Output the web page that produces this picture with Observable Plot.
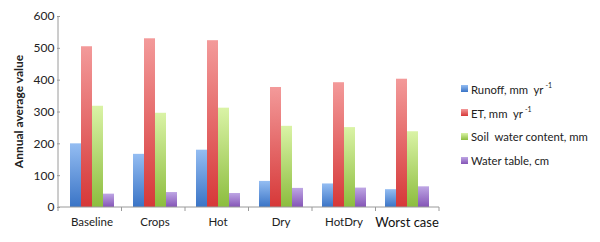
<!DOCTYPE html>
<html><head><meta charset="utf-8">
<script src="https://cdn.jsdelivr.net/npm/d3@7"></script>
<script src="https://cdn.jsdelivr.net/npm/@observablehq/plot@0.6"></script>
<style>
body{margin:0;background:#fff;font-family:Lato,"Open Sans",sans-serif;}
#wrap{position:relative;width:600px;height:242px;}
#legend{position:absolute;left:461px;top:76px;font-size:11.3px;color:#222;}
#legend .row{height:24px;display:flex;align-items:center;white-space:nowrap;}
#legend .sw{width:7px;height:7px;margin-right:3px;}
#legend sup{font-size:7px;vertical-align:6px;margin-left:2px;}
</style></head>
<body><div id="wrap"><div id="chart"></div><div id="legend"></div></div>
<script>
const categories = ["Baseline","Crops","Hot","Dry","HotDry","Worst case"];
const series = ["Runoff","ET","Soil water content","Water table"];
const runoff = [200,167,180,82,74,56];
const et = [505,530,524,377,392,403];
const soil = [318,296,312,255,251,238];
const waterTable = [42,47,44,60,61,65];
const yTicks = [0,100,200,300,400,500,600];
const yLabel = "Annual average value";
const legendLabels = ['Runoff, mm&nbsp; yr<sup>-1</sup>','ET, mm&nbsp; yr<sup>-1</sup>','Soil&nbsp; water content, mm','Water table, cm'];
const gradTop = ["#94bdf2","#f39a9a","#daf3a6","#bea6e4"];
const gradBot = ["#3a74c6","#d63838","#8cbd3e","#8454b6"];

const valuesBySeries = [runoff, et, soil, waterTable];
const data = [];
categories.forEach((c,i)=>series.forEach((s,j)=>data.push({cat:c, series:s, value:valuesBySeries[j][i]})));

const gradIds = series.map((s,j)=>"url(#grad"+j+")");

const svg = Plot.plot({
  width: 450, height: 242,
  marginLeft: 58, marginRight: 11, marginTop: 16, marginBottom: 35,
  style: {fontFamily: "Lato, 'Open Sans', sans-serif", fontSize: "11.5px", color: "#222"},
  fx: {domain: categories, padding: 0, axis: "bottom", tickSize: 0, tickPadding: 10, label: null},
  x: {domain: series, paddingInner: 0, paddingOuter: 0.76, axis: null},
  y: {domain: [0,600], ticks: yTicks, tickSize: 3, label: null, tickPadding: 3},
  color: {domain: series, range: gradIds},
  marks: [
    Plot.barY(data, {fx: "cat", x: "series", y: "value", fill: "series"})
  ]
});

const root = d3.select(svg);
const defs = root.insert("defs", ":first-child");
series.forEach((s,j)=>{
  const lg = defs.append("linearGradient").attr("id","grad"+j).attr("x1",0).attr("y1",0).attr("x2",0).attr("y2",1);
  lg.append("stop").attr("offset","0%").attr("stop-color",gradTop[j]);
  lg.append("stop").attr("offset","100%").attr("stop-color",gradBot[j]);
});
root.selectAll("[aria-label='y-axis tick'] path, [aria-label='y-axis tick'] line").attr("stroke","#9a9a9a");
root.selectAll("[aria-label='y-axis tick label'] text").attr("font-size", 12);
root.selectAll("[aria-label='fx-axis tick label'] text").each(function(){
  const t = d3.select(this);
  if (t.text() === "Worst case") t.attr("font-size", 13).attr("fill","#111");
});

// axis lines and category boundary ticks from Plot's scales
const fxs = svg.scale("fx"), ys = svg.scale("y");
const fxScale = d3.scaleBand(fxs.domain, fxs.range).paddingInner(fxs.paddingInner ?? 0).paddingOuter(fxs.paddingOuter ?? 0).align(fxs.align ?? 0.5);
const yScale = d3.scaleLinear(ys.domain, ys.range);
const bw = fxScale.bandwidth();
const x0 = fxScale(categories[0]), x1 = fxScale(categories[categories.length-1]) + bw;
const stroke = "#9a9a9a";
const g = root.append("g");
g.append("line").attr("x1", x0).attr("x2", x0).attr("y1", yScale(0)).attr("y2", yScale(600)).attr("stroke", stroke);
g.append("line").attr("x1", x0).attr("x2", x1).attr("y1", yScale(0)).attr("y2", yScale(0)).attr("stroke", stroke);
categories.map(c=>fxScale(c)).concat([x1]).forEach(e=>
  g.append("line").attr("x1", e).attr("x2", e).attr("y1", yScale(0)).attr("y2", yScale(0)+4).attr("stroke", stroke));
g.append("text").attr("transform", `translate(20,${(yScale(0)+yScale(600))/2}) rotate(-90)`)
  .attr("text-anchor","middle").attr("dominant-baseline","middle")
  .attr("font-weight","bold").attr("font-size",12).attr("fill","#222").text(yLabel);

document.getElementById("chart").appendChild(svg);

const legend = d3.select("#legend");
series.forEach((s,j)=>{
  const r = legend.append("div").attr("class","row");
  r.append("div").attr("class","sw").style("background","linear-gradient("+gradTop[j]+","+gradBot[j]+")");
  r.append("span").html(legendLabels[j]);
});
</script></body></html>
